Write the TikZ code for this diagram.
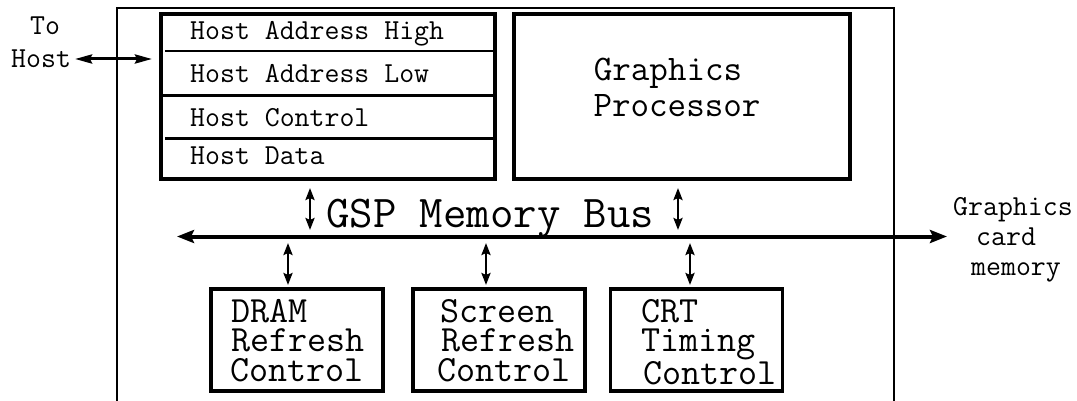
\documentclass[tikz,border=0pt]{standalone}
\usepackage{fontspec}
\usetikzlibrary{arrows.meta}
\tikzset{
  small/.style={inner sep=0pt, anchor=base west, font=\fontsize{29}{30}\selectfont\ttfamily},
  mid/.style={inner sep=0pt, anchor=base, font=\fontsize{36}{38}\selectfont\ttfamily},
  boxtxt/.style={inner sep=0pt, anchor=base west, text width=150pt, align=left, font=\fontsize{37}{29.5}\selectfont\ttfamily},
  gmtxt/.style={inner sep=0pt, anchor=base west, text width=125pt, align=left, font=\fontsize{29}{30}\selectfont\ttfamily},
  big/.style={inner sep=0pt, anchor=base west, font=\fontsize{45.5}{46}\selectfont\ttfamily},
  topbox/.style={draw, line width=4pt, minimum width=334pt, minimum height=165pt, inner sep=0pt},
  lowbox/.style={draw, line width=3.5pt, minimum width=172pt, minimum height=102pt, inner sep=0pt},
  divider/.style={line width=2.5pt},
  frame/.style={line width=2pt},
  busarrow/.style={line width=4pt, {Stealth[length=17pt,width=13pt,inset=3pt]}-{Stealth[length=17pt,width=13pt,inset=3pt]}},
  vlink/.style={line width=2.5pt, {Stealth[length=12pt,width=9pt,inset=2pt]}-{Stealth[length=12pt,width=9pt,inset=2pt]}},
  hostarrow/.style={line width=3pt, {Stealth[length=17pt,width=9pt,inset=2pt]}-{Stealth[length=17pt,width=9pt,inset=2pt]}},
}
\begin{document}
\begin{tikzpicture}[x=1pt,y=-1pt]
\useasboundingbox (0,0) rectangle (1077,401);

% outer frame (open at bottom)
\coordinate (fbl) at (117,401);
\coordinate (ftl) at (117,8);
\coordinate (ftr) at (894,8);
\coordinate (fbr) at (894,401);
\draw[frame] (fbl) -- (ftl) -- (ftr) -- (fbr);

% host interface box
\node[topbox] (host) at (328,96.5) {};
\coordinate (d1a) at (165,51);   \coordinate (d1b) at (495,51);
\coordinate (d2a) at (161,95.5); \coordinate (d2b) at (495,95.5);
\coordinate (d3a) at (165,138.5);\coordinate (d3b) at (495,138.5);
\draw[divider] (d1a) -- (d1b);
\draw[divider] (d2a) -- (d2b);
\draw[divider] (d3a) -- (d3b);
\node[small] (hah) at (190,40) {Host Address High};
\node[small] (hal) at (190,83) {Host Address Low};
\node[small] (hc)  at (190,127) {Host Control};
\node[small] (hd)  at (190,165) {Host Data};

% graphics processor
\node[topbox, minimum width=336pt] (gp) at (682,96.5) {};
\node[mid] (gp1) at (668,81) {Graphics};
\node[mid] (gp2) at (677,117) {Processor};

% to host
\node[small] (to) at (30,35) {To};
\node[small] (th) at (11,68) {Host};
\coordinate (ha) at (75,59);
\coordinate (hb) at (152,59);
\draw[hostarrow] (ha) -- (hb);

% bus
\node[big] (gsp) at (326,227) {GSP Memory Bus};
\coordinate (busl) at (177,236.5);
\coordinate (busr) at (947,236.5);
\draw[busarrow] (busl) -- (busr);

\coordinate (u1a) at (310,188); \coordinate (u1b) at (310,230);
\coordinate (u2a) at (678,188); \coordinate (u2b) at (678,230);
\draw[vlink] (u1a) -- (u1b);
\draw[vlink] (u2a) -- (u2b);

% graphics card memory
\node[gmtxt] (gm) at (953,215) {Graphics\\\hspace*{23pt}card\\\hspace*{18pt}memory};

% lower boxes
\node[lowbox] (dram) at (297,340) {};
\node[lowbox] (scr) at (499,340) {};
\node[lowbox] (crt) at (696.5,340) {};

\node[boxtxt] (drt) at (230,322) {\hspace*{1pt}DRAM\\\hspace*{1pt}Refresh\\Control};
\node[boxtxt] (sct) at (437,322) {\hspace*{3pt}Screen\\\hspace*{4pt}Refresh\\Control};
\node[boxtxt] (crtt) at (641,322) {CRT\\Timing\\\hspace*{2pt}Control};

\coordinate (l1a) at (288,243); \coordinate (l1b) at (288,285);
\coordinate (l2a) at (486,243); \coordinate (l2b) at (486,285);
\coordinate (l3a) at (690,243); \coordinate (l3b) at (690,285);
\draw[vlink] (l1a) -- (l1b);
\draw[vlink] (l2a) -- (l2b);
\draw[vlink] (l3a) -- (l3b);
\end{tikzpicture}
\end{document}
